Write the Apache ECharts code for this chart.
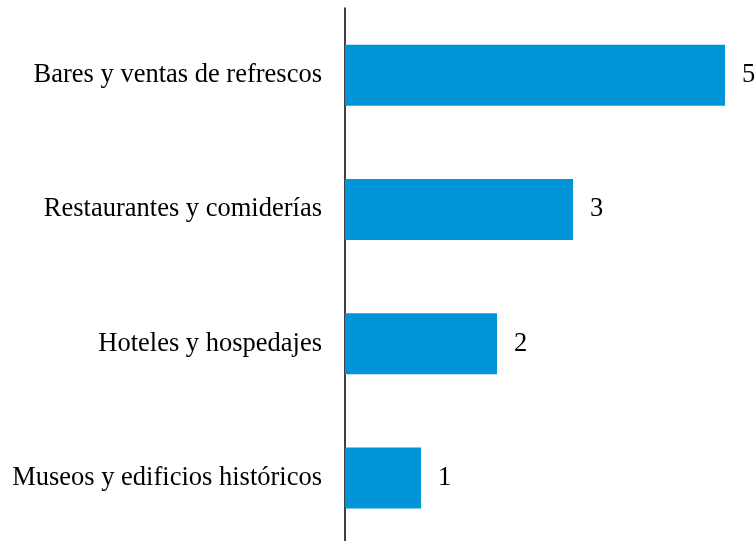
<!DOCTYPE html>
<html>
<head>
<meta charset="utf-8">
<script src="https://cdn.jsdelivr.net/npm/echarts@6/dist/echarts.min.js"></script>
<style>
  html, body { margin: 0; padding: 0; background: #fff; }
  #main { width: 756px; height: 541px; }
</style>
</head>
<body>
<div id="main"></div>
<script>
// categories from top to bottom
var categories = ['Bares y ventas de refrescos', 'Restaurantes y comiderías', 'Hoteles y hospedajes', 'Museos y edificios históricos'];
var values = [5, 3, 2, 1];

var chart = echarts.init(document.getElementById('main'));
chart.setOption({
  backgroundColor: '#fff',
  animation: false,
  grid: { left: 345, top: 8, width: 380, height: 537, containLabel: false, outerBoundsMode: 'none' },
  xAxis: {
    type: 'value',
    min: 0,
    max: 5,
    show: false
  },
  yAxis: {
    type: 'category',
    inverse: true,
    data: categories,
    axisLine: { show: true, lineStyle: { color: '#000', width: 1.5 } },
    axisTick: { show: false },
    splitLine: { show: false },
    axisLabel: {
      margin: 23,
      color: '#000',
      fontFamily: 'Liberation Serif',
      fontSize: 26.5
    }
  },
  series: [{
    type: 'bar',
    data: values,
    barWidth: 61,
    itemStyle: { color: '#0094D9' },
    label: {
      show: true,
      position: 'right',
      distance: 17,
      color: '#000',
      fontFamily: 'Liberation Serif',
      fontSize: 26.5
    }
  }]
});
</script>
</body>
</html>
